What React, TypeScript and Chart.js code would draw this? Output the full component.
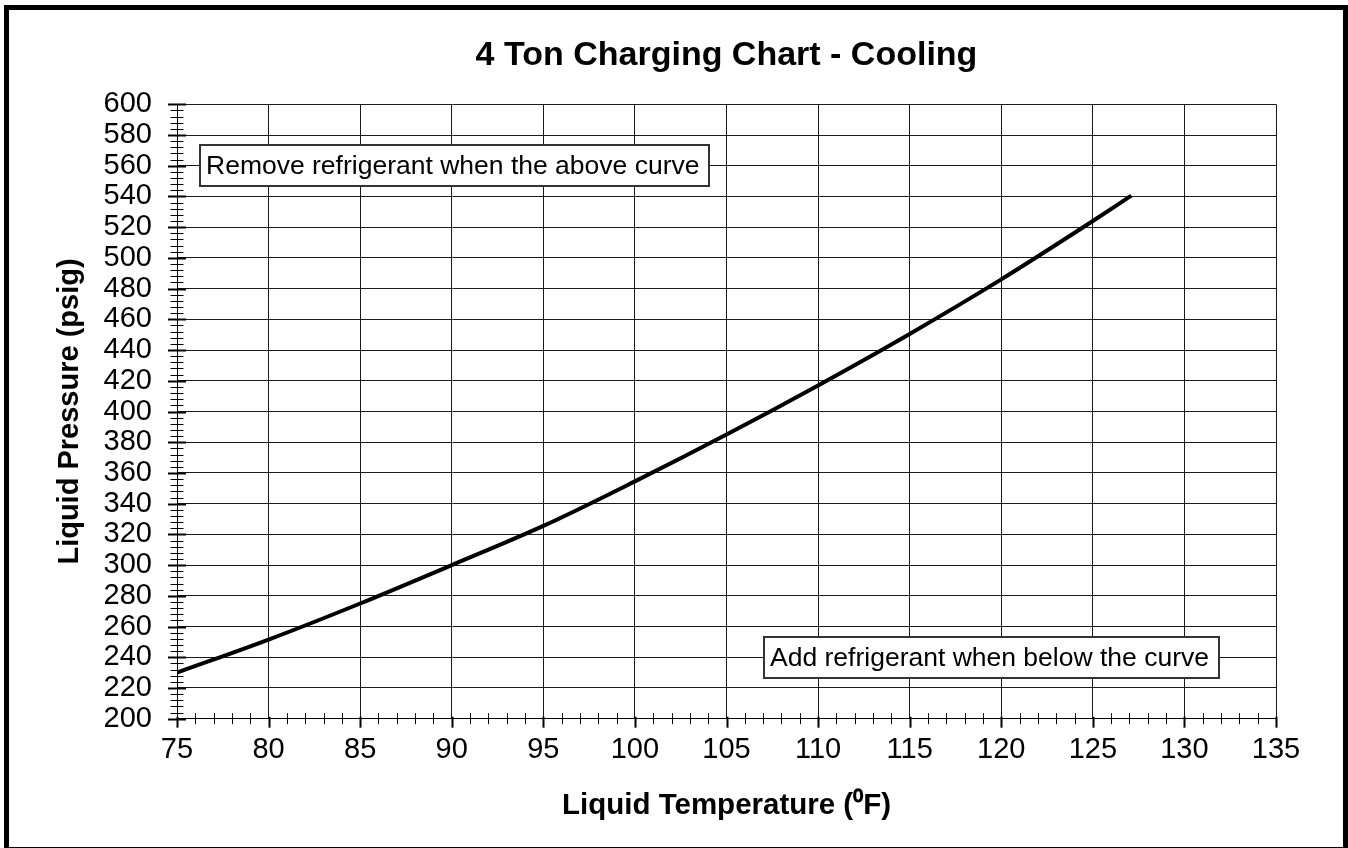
import React, { useEffect, useRef } from 'react';
import { Chart, registerables } from 'chart.js';

Chart.register(...registerables);

// ---- data ----
const temperatures = [75, 80, 85, 90, 95, 100, 105, 110, 115, 120, 125, 127.1];
const pressures = [230, 251.5, 275, 300, 325.5, 354.5, 385, 417, 450.5, 486, 524, 540.5];

const xMin = 75;
const xMax = 135;
const xMajorStep = 5;
const xMinorStep = 1;
const yMin = 200;
const yMax = 600;
const yMajorStep = 20;
const yMinorStep = 4;

const chartTitle = '4 Ton Charging Chart - Cooling';
const xAxisTitle = 'Liquid Temperature (\u2070F)';
const yAxisTitle = 'Liquid Pressure (psig)';

const noteTexts = ['Remove refrigerant when the above curve', 'Add refrigerant when below the curve'];
const noteX = [76.25, 107.05];
const noteY = [560, 240];

const FONT = '"Liberation Sans", Arial, Helvetica, sans-serif';

const framePlugin = {
  id: 'frame',
  beforeDraw(chart: any) {
    const { ctx, width, height } = chart;
    ctx.save();
    ctx.fillStyle = '#fff';
    ctx.fillRect(0, 0, width, height);
    ctx.restore();
  },
  afterDraw(chart: any) {
    const { ctx, chartArea } = chart;
    ctx.save();
    ctx.strokeStyle = '#000';
    ctx.lineWidth = 5;
    ctx.strokeRect(6.5, 7.5, 1339, 842);
    // chart title centred over the plot area
    ctx.fillStyle = '#000';
    ctx.font = `bold 34px ${FONT}`;
    ctx.textAlign = 'center';
    ctx.textBaseline = 'middle';
    ctx.fillText(chartTitle, (chartArea.left + chartArea.right) / 2, 56);
    ctx.restore();
  },
};

const ticksPlugin = {
  id: 'crossTicks',
  afterDraw(chart: any) {
    const { ctx, chartArea } = chart;
    const xs = chart.scales.x;
    const ys = chart.scales.y;
    ctx.save();
    ctx.strokeStyle = '#000';
    for (let v = yMin; v <= yMax + 1e-6; v += yMinorStep) {
      const major = Math.abs(v % yMajorStep) < 1e-6;
      const py = Math.round(ys.getPixelForValue(v)) + 0.5;
      const half = major ? 9 : 6.5;
      ctx.lineWidth = major ? 2 : 1;
      ctx.beginPath();
      ctx.moveTo(chartArea.left - half, py);
      ctx.lineTo(chartArea.left + half, py);
      ctx.stroke();
    }
    for (let v = xMin; v <= xMax + 1e-6; v += xMinorStep) {
      const major = Math.abs((v - xMin) % xMajorStep) < 1e-6;
      const px = Math.round(xs.getPixelForValue(v)) + 0.5;
      ctx.lineWidth = major ? 2 : 1;
      ctx.beginPath();
      if (major) {
        ctx.moveTo(px, chartArea.bottom - 2);
        ctx.lineTo(px, chartArea.bottom + 9);
      } else {
        ctx.moveTo(px, chartArea.bottom - 5.5);
        ctx.lineTo(px, chartArea.bottom + 5.5);
      }
      ctx.stroke();
    }
    ctx.restore();
  },
};

const notesPlugin = {
  id: 'notes',
  afterDatasetsDraw(chart: any) {
    const { ctx } = chart;
    const xs = chart.scales.x;
    const ys = chart.scales.y;
    ctx.save();
    ctx.font = `26.5px ${FONT}`;
    noteTexts.forEach((text, i) => {
      const left = Math.round(xs.getPixelForValue(noteX[i]));
      const cy = ys.getPixelForValue(noteY[i]);
      const w = Math.round(ctx.measureText(text).width + 16);
      const h = 41;
      const top = Math.round(cy - h / 2);
      ctx.fillStyle = '#fff';
      ctx.fillRect(left, top, w, h);
      ctx.strokeStyle = '#333';
      ctx.lineWidth = 2;
      ctx.strokeRect(left, top, w, h);
      ctx.fillStyle = '#000';
      ctx.textBaseline = 'middle';
      ctx.textAlign = 'left';
      ctx.fillText(text, left + 6, top + h / 2 + 1);
    });
    ctx.restore();
  },
};

export default function App() {
  const canvasRef = useRef<HTMLCanvasElement | null>(null);

  useEffect(() => {
    if (!canvasRef.current) return;
    Chart.defaults.font.family = FONT;
    const points = temperatures.map((t, i) => ({ x: t, y: pressures[i] }));
    const chart = new Chart(canvasRef.current, {
      type: 'line',
      data: {
        datasets: [
          {
            data: points,
            borderColor: '#000',
            borderWidth: 4,
            pointRadius: 0,
            fill: false,
            cubicInterpolationMode: 'monotone',
          } as any,
        ],
      },
      options: {
        responsive: false,
        animation: false,
        devicePixelRatio: 1,
        layout: { padding: { left: 0, right: 72, top: 104.3, bottom: 0 } },
        plugins: {
          legend: { display: false },
          tooltip: { enabled: false },
          title: { display: false },
        },
        scales: {
          x: {
            type: 'linear',
            min: xMin,
            max: xMax,
            afterFit: (s: any) => {
              s.height = 129.3;
            },
            ticks: {
              stepSize: xMajorStep,
              autoSkip: false,
              maxRotation: 0,
              color: '#000',
              padding: 14,
              font: { size: 29, family: FONT },
            },
            grid: { color: '#1a1a1a', lineWidth: 1, drawTicks: false },
            border: { display: true, color: '#000', width: 1 },
            title: {
              display: true,
              text: xAxisTitle,
              color: '#000',
              font: { size: 29.5, weight: 'bold', family: FONT },
              padding: { top: 0, bottom: 24 },
            },
          },
          y: {
            type: 'linear',
            min: yMin,
            max: yMax,
            afterFit: (s: any) => {
              s.width = 177;
            },
            ticks: {
              stepSize: yMajorStep,
              autoSkip: false,
              color: '#000',
              padding: 25,
              font: { size: 29, family: FONT },
            },
            grid: { color: '#1a1a1a', lineWidth: 1, drawTicks: false },
            border: { display: true, color: '#000', width: 1 },
            title: {
              display: true,
              text: yAxisTitle,
              color: '#000',
              font: { size: 29, weight: 'bold', family: FONT },
              padding: { top: 53, bottom: 0 },
            },
          },
        },
      },
      plugins: [framePlugin, ticksPlugin, notesPlugin],
    });
    return () => chart.destroy();
  }, []);

  return (
    <div style={{ position: 'absolute', left: 0, top: 0, width: 1348, height: 848, background: '#fff' }}>
      <canvas ref={canvasRef} width={1348} height={848} style={{ display: 'block' }} />
    </div>
  );
}
